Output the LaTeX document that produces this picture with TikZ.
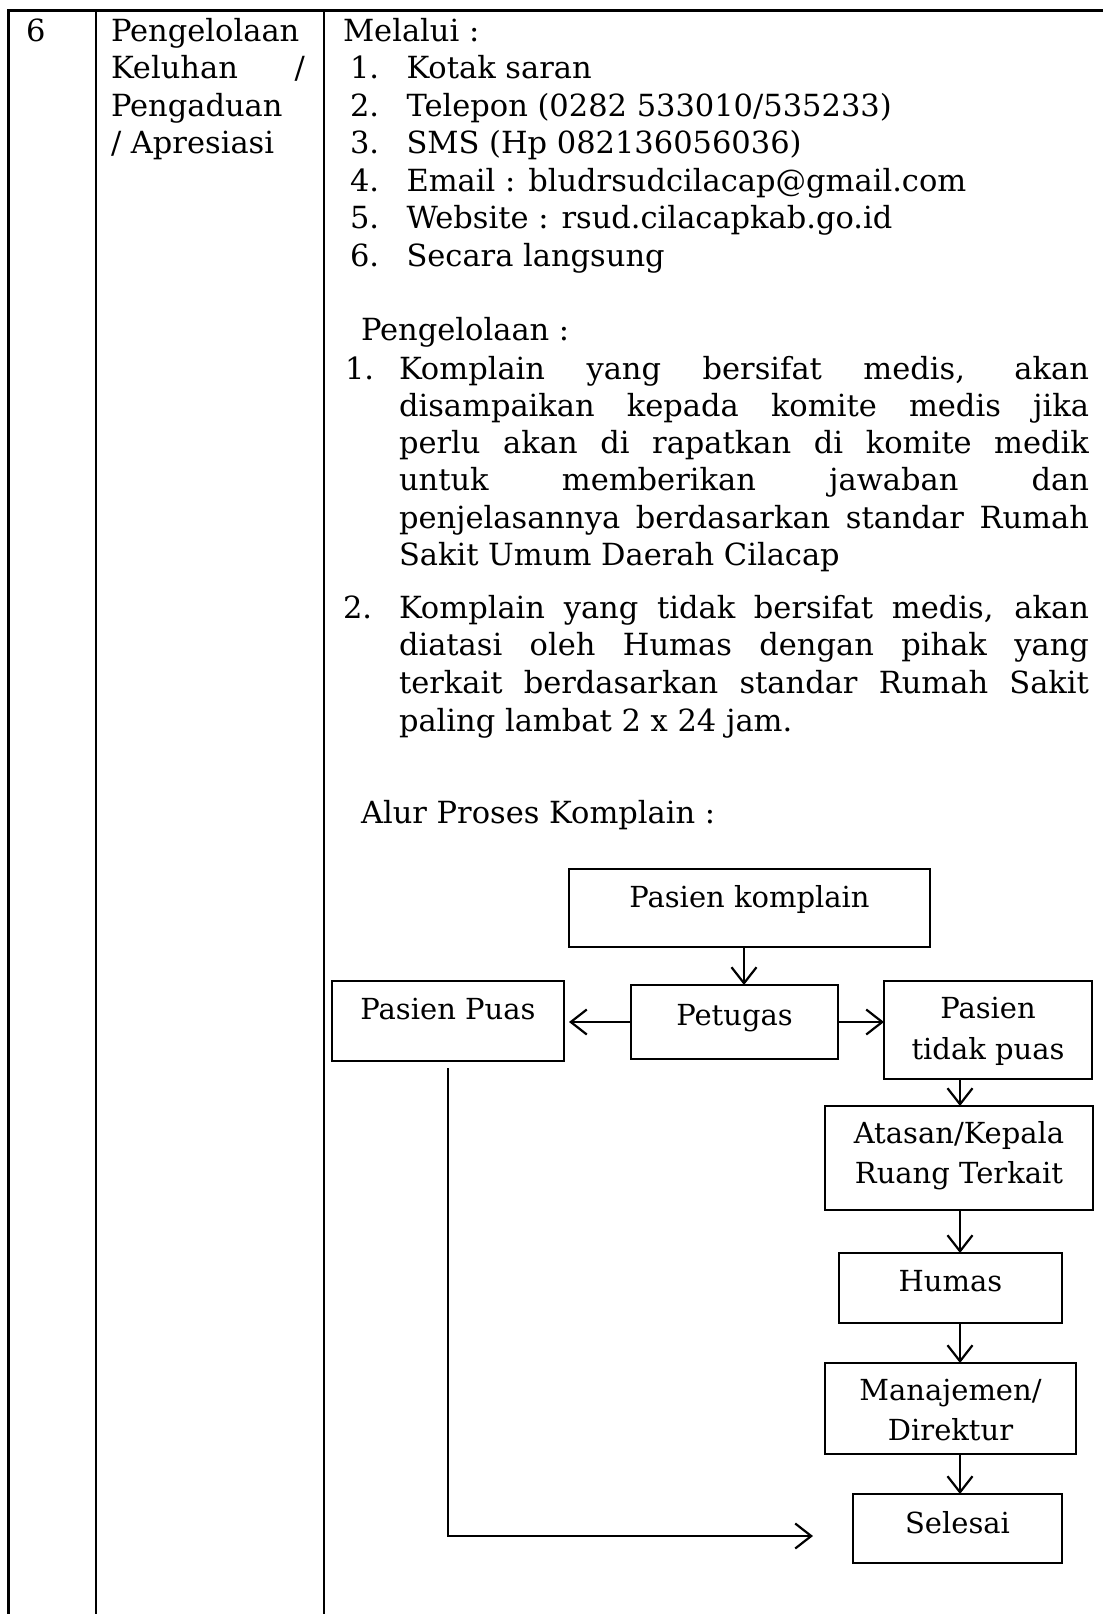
\documentclass[tikz,border=0pt]{standalone}
\usepackage{fontspec}
\setmainfont{DejaVu Serif}
\usetikzlibrary{arrows.meta}
\newcommand\bodyfont{\fontsize{30.5}{37.5}\selectfont}
\newcommand\boxfont{\fontsize{29}{37.5}\selectfont}

\begin{document}
\begin{tikzpicture}[x=1pt,y=-1pt,
  every node/.style={inner sep=0pt, outer sep=0pt, font=\bodyfont},
  txt/.style={anchor=base west},
  btxt/.style={anchor=base, font=\boxfont},
  box/.style={draw, line width=1.3pt, anchor=north west, minimum width=#1},
  arr/.style={line width=2.2pt, -{Straight Barb[length=16pt,width=25pt,line width=2.2pt]}},
  rule/.style={line width=2.6pt}]

\useasboundingbox (0,0) rectangle (1103,1614);
\fill[white] (0,0) rectangle (1103,1614);

% table rules
\draw[rule] (8.5,10.3) -- (1103,10.3);
\draw[rule] (8.5,9) -- (8.5,1614);
\draw[rule] (96,9) -- (96,1614);
\draw[rule] (324,9) -- (324,1614);

% column 1 and 2
\node[txt] (no) at (26,41) {6};
\node[txt] (c2a) at (111,41) {Pengelolaan};
\node[txt] (c2b) at (111,78.5) {\makebox[194pt][s]{Keluhan /}};
\node[txt] (c2c) at (111,116) {Pengaduan};
\node[txt] (c2d) at (111,153.5) {/ Apresiasi};

% channels
\node[txt] (mel) at (343,41) {Melalui :};
\foreach \n/\y/\t in {1/78.5/{Kotak saran},
                      2/116/{Telepon (0282 533010/535233)},
                      3/153.5/{SMS (Hp 082136056036)},
                      4/191/{Email : bludrsudcilacap@gmail.com},
                      5/228.5/{Website : rsud.cilacapkab.go.id},
                      6/266/{Secara langsung}}{
  \node[txt] (mn\n) at (350,\y) {\n.};
  \node[txt] (mt\n) at (406.5,\y) {\t};
}

% handling
\node[txt] (peng) at (361,340) {Pengelolaan :};
\node[txt] (p1n) at (345,379) {1.};
\node[txt] (p1a) at (399,379)   {\makebox[690pt][s]{Komplain yang bersifat medis, akan}};
\node[txt] (p1b) at (399,416.3) {\makebox[690pt][s]{disampaikan kepada komite medis jika}};
\node[txt] (p1c) at (399,453.6) {\makebox[690pt][s]{perlu akan di rapatkan di komite medik}};
\node[txt] (p1d) at (399,490.9) {\makebox[690pt][s]{untuk memberikan jawaban dan}};
\node[txt] (p1e) at (399,528.2) {\makebox[690pt][s]{penjelasannya berdasarkan standar Rumah}};
\node[txt] (p1f) at (399,565.5) {Sakit Umum Daerah Cilacap};
\node[txt] (p2n) at (343,618.6) {2.};
\node[txt] (p2a) at (399,618.6) {\makebox[690pt][s]{Komplain yang tidak bersifat medis, akan}};
\node[txt] (p2b) at (399,655.8) {\makebox[690pt][s]{diatasi oleh Humas dengan pihak yang}};
\node[txt] (p2c) at (399,693.6) {\makebox[690pt][s]{terkait berdasarkan standar Rumah Sakit}};
\node[txt] (p2d) at (399,731.3) {paling lambat 2 x 24 jam.};

\node[txt] (alur) at (361,823.5) {Alur Proses Komplain :};

% flow boxes
\node[box=361pt, minimum height=78pt]  (komplain) at (569,869)  {};
\node[box=207pt, minimum height=74pt]  (petugas)  at (631,985)  {};
\node[box=232pt, minimum height=80pt]  (puas)     at (332,981)  {};
\node[box=208pt, minimum height=98pt]  (tidak)    at (884,981)  {};
\node[box=268pt, minimum height=104pt] (atasan)   at (825,1106) {};
\node[box=223pt, minimum height=70pt]  (humas)    at (839,1253) {};
\node[box=251pt, minimum height=91pt]  (manaj)    at (825,1363) {};
\node[box=209pt, minimum height=69pt]  (selesai)  at (853,1494) {};

\node[btxt] at ([yshift=-38pt]komplain.north) {Pasien komplain};
\node[btxt] at ([yshift=-40pt]petugas.north) {Petugas};
\node[btxt] at ([yshift=-38pt]puas.north) {Pasien Puas};
\node[btxt] at ([yshift=-37pt]tidak.north) {Pasien};
\node[btxt] at ([yshift=-78pt]tidak.north) {tidak puas};
\node[btxt] at ([yshift=-37pt]atasan.north) {Atasan/Kepala};
\node[btxt] at ([yshift=-77pt]atasan.north) {Ruang Terkait};
\node[btxt] at ([yshift=-38pt]humas.north) {Humas};
\node[btxt] at ([yshift=-37pt]manaj.north) {Manajemen/};
\node[btxt] at ([yshift=-77.5pt]manaj.north) {Direktur};
\node[btxt] at ([yshift=-39pt]selesai.north) {Selesai};

% connectors
\coordinate (ax1) at (744,0);
\coordinate (ax2) at (960,0);
\coordinate (ret) at (813,1536);
\draw[arr] (ax1 |- komplain.south) -- (ax1 |- petugas.north);
\draw[arr] (petugas.west) -- ([xshift=5pt]petugas.west -| puas.east);
\draw[arr] (petugas.east) -- (petugas.east -| tidak.west);
\draw[arr] (ax2 |- tidak.south) -- (ax2 |- atasan.north);
\draw[arr] (ax2 |- atasan.south) -- (ax2 |- humas.north);
\draw[arr] (ax2 |- humas.south) -- (ax2 |- manaj.north);
\draw[arr] (ax2 |- manaj.south) -- (ax2 |- selesai.north);
\draw[arr] ([yshift=-7pt]puas.south) |- (ret);

\end{tikzpicture}
\end{document}
